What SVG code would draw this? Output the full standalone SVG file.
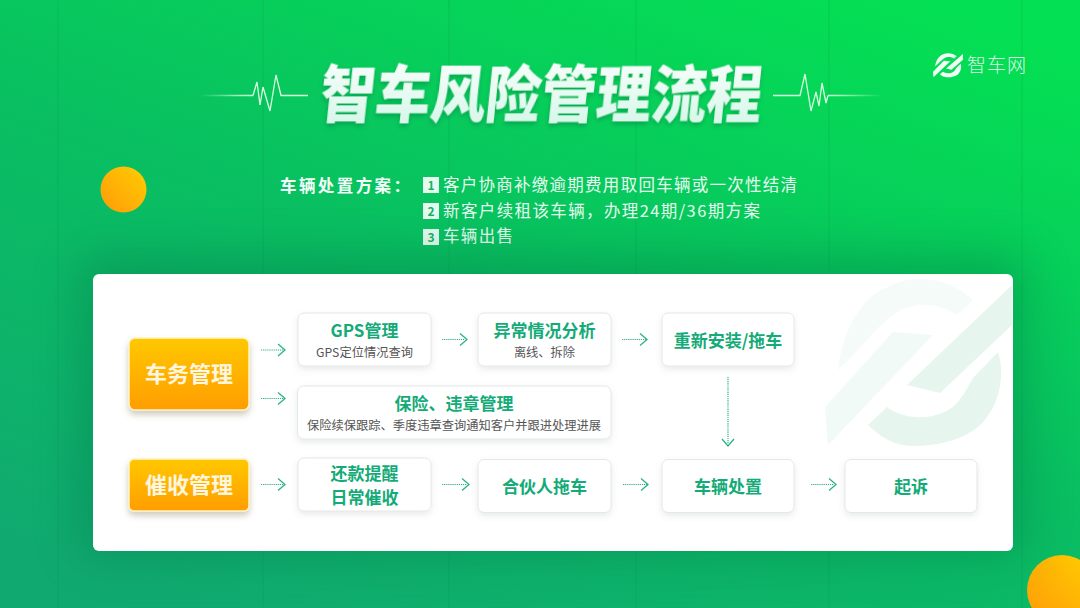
<svg xmlns="http://www.w3.org/2000/svg" width="1080" height="608" viewBox="0 0 1080 608">
<style>
text{font-family:"Noto Sans CJK SC","Noto Sans",sans-serif}
.t{font-size:17px;font-weight:700;fill:#14ab78;text-anchor:middle}
.s{font-size:12.25px;fill:#555;text-anchor:middle}
.o{font-size:22px;font-weight:700;fill:#fff6e0;text-anchor:middle}
.l{font-size:16.5px;fill:#e6fbf0}
.n{font-size:12px;font-weight:700;fill:#12b565;text-anchor:middle}
.box{fill:#fff;stroke:#e4e8e6;stroke-width:1;filter:url(#bs)}
.orange{fill:url(#og);stroke:#fff3c8;stroke-width:1.5;filter:url(#os)}
.ln{fill:none;stroke:#2cb285;stroke-width:1.2;stroke-dasharray:1.2 .9}
.hd{fill:none;stroke:#2cb285;stroke-width:1.3}
.ecg{fill:none;stroke-width:1.3}
.grid{stroke:#07884f;stroke-opacity:.22;stroke-width:1}
</style>
<defs>
<linearGradient id="bg" x1=".85" y1="0" x2=".2" y2="1"><stop offset="0" stop-color="#04e053"/><stop offset=".5" stop-color="#09bf61"/><stop offset="1" stop-color="#10aa70"/></linearGradient>
<linearGradient id="og" x1="0" y1="0" x2="0" y2="1"><stop offset="0" stop-color="#ffc800"/><stop offset="1" stop-color="#ff9d00"/></linearGradient>
<linearGradient id="ball" x1="1" y1="0" x2="0" y2="1"><stop offset="0" stop-color="#ffce00"/><stop offset="1" stop-color="#ff9a0a"/></linearGradient>
<linearGradient id="ttl" x1="0" y1="0" x2="0" y2="1"><stop offset="0" stop-color="#fff"/><stop offset="1" stop-color="#d2f6e6"/></linearGradient>
<linearGradient id="ecgL" gradientUnits="userSpaceOnUse" x1="200" y1="0" x2="253" y2="0"><stop offset="0" stop-color="#d8ffe0" stop-opacity="0"/><stop offset="1" stop-color="#d8ffe0"/></linearGradient>
<linearGradient id="ecgR" gradientUnits="userSpaceOnUse" x1="828" y1="0" x2="882" y2="0"><stop offset="0" stop-color="#d8ffe0"/><stop offset="1" stop-color="#d8ffe0" stop-opacity="0"/></linearGradient>
<filter id="bs" x="-15%" y="-20%" width="130%" height="150%"><feDropShadow dx="0" dy="3" stdDeviation="3" flood-color="#6a8a7a" flood-opacity=".16"/></filter>
<filter id="os" x="-15%" y="-20%" width="130%" height="150%"><feDropShadow dx="0" dy="4" stdDeviation="3" flood-color="#7a6a40" flood-opacity=".35"/></filter>
<filter id="ts" x="-5%" y="-20%" width="110%" height="150%"><feDropShadow dx="0" dy="3" stdDeviation="2.500" flood-color="#05703f" flood-opacity=".4"/></filter>
<filter id="cs" x="-20%" y="-40%" width="140%" height="180%"><feGaussianBlur stdDeviation="24"/></filter>
<clipPath id="cardClip"><rect x="93" y="274" width="920" height="277" rx="6"/></clipPath>
<path id="markA" d="M838 370C842 335 858 300 885 288C915 272 950 278 973 300L957 315C940 303 915 300 893 315C875 328 860 350 838 370Z"/>
<path id="markB" d="M825 407L893 332L933 335L828 445Z"/>
<path id="markC" d="M1012 285L907 385L940 393L1012 325Z"/>
<path id="markD" d="M868 425L887 407C900 418 930 423 953 407C963 398 968 386 973 378L998 352C1005 373 1000 400 987 417C975 435 947 446 913 446C895 446 880 437 868 425Z"/>
</defs>

<rect width="1080" height="608" fill="url(#bg)"/>
<g class="grid"><path d="M58 0V608M263 0V608M449 0V608M636 0V608M829 0V608M1022 0V608"/></g>

<circle cx="123.500" cy="189.500" r="23" fill="url(#ball)"/>
<circle cx="1062" cy="590" r="35" fill="url(#ball)"/>

<g id="title">
<path class="ecg" stroke="url(#ecgL)" d="M200 95.500H253"/>
<path class="ecg" stroke="#d8ffe0" d="M253 95.500L257 82L260 105L263 87L270 111L276 75L281 95.500H308"/>
<text x="320" y="117" transform="skewX(-6) translate(10.500 0)" font-size="62" font-weight="900" fill="url(#ttl)" filter="url(#ts)" textLength="442" lengthAdjust="spacingAndGlyphs">智车风险管理流程</text>
<path class="ecg" stroke="#d8ffe0" d="M773 95.500H800L805 74L811 111L816 92L819 106L822 83L826 103L828 95.500"/>
<path class="ecg" stroke="url(#ecgR)" d="M828 95.500H882"/>
</g>

<g id="logo">
<g transform="translate(801 12.700) scale(.16 .145)" fill="#f0fff5"><use href="#markA"/><use href="#markB"/><use href="#markC"/><use href="#markD"/></g>
<text x="967" y="72" font-size="19" font-weight="300" fill="#d9f7e4" textLength="59">智车网</text>
</g>

<g id="plan">
<text x="280" y="192" font-size="16.5" font-weight="700" fill="#f2fff8" textLength="130">车辆处置方案：</text>
<rect x="423" y="177" width="16" height="16" fill="#e6fbf0"/><text class="n" x="431" y="189.500">1</text>
<text class="l" x="443" y="191" textLength="354">客户协商补缴逾期费用取回车辆或一次性结清</text>
<rect x="423" y="203" width="16" height="16" fill="#e6fbf0"/><text class="n" x="431" y="215.500">2</text>
<text class="l" x="443" y="217" textLength="317">新客户续租该车辆，办理24期/36期方案</text>
<rect x="423" y="229" width="16" height="16" fill="#e6fbf0"/><text class="n" x="431" y="241.500">3</text>
<text class="l" x="443" y="242" textLength="70">车辆出售</text>
</g>

<g id="card">
<rect x="80" y="256" width="946" height="300" rx="6" fill="#055f3c" opacity=".3" filter="url(#cs)"/>
<rect x="93" y="274" width="920" height="277" rx="6" fill="#fff"/>
<g clip-path="url(#cardClip)" fill="#e6f6ef">
<use href="#markA" opacity=".4"/>
<use href="#markB" opacity=".55"/>
<use href="#markC"/>
<use href="#markD"/>
</g>
</g>

<g id="car-mgmt"><rect class="orange" x="129" y="338" width="120" height="72" rx="6"/><text class="o" x="189" y="382">车务管理</text></g>
<g id="collect-mgmt"><rect class="orange" x="129" y="459" width="120" height="52" rx="5"/><text class="o" x="189" y="493">催收管理</text></g>

<g id="gps"><rect class="box" x="298" y="313" width="133" height="53" rx="6"/><text class="t" x="364.500" y="337">GPS管理</text><text class="s" x="364.500" y="357">GPS定位情况查询</text></g>
<g id="abnormal"><rect class="box" x="478" y="313" width="133" height="53" rx="6"/><text class="t" x="544.500" y="337">异常情况分析</text><text class="s" x="544.500" y="357">离线、拆除</text></g>
<g id="reinstall"><rect class="box" x="662" y="313" width="132" height="53" rx="6"/><text class="t" x="728" y="347">重新安装/拖车</text></g>
<g id="insurance"><rect class="box" x="297.500" y="386" width="313.500" height="53" rx="6"/><text class="t" x="454" y="410">保险、违章管理</text><text class="s" x="454" y="430">保险续保跟踪、季度违章查询通知客户并跟进处理进展</text></g>
<g id="remind"><rect class="box" x="298" y="458" width="133" height="53" rx="6"/><text class="t" x="364.500" y="480">还款提醒</text><text class="t" x="364.500" y="504">日常催收</text></g>
<g id="partner"><rect class="box" x="478" y="459.500" width="133" height="53" rx="6"/><text class="t" x="544.500" y="493">合伙人拖车</text></g>
<g id="dispose"><rect class="box" x="662" y="459.500" width="132" height="53" rx="6"/><text class="t" x="728" y="493">车辆处置</text></g>
<g id="sue"><rect class="box" x="845" y="459.500" width="132" height="53" rx="6"/><text class="t" x="911" y="493">起诉</text></g>

<g id="connectors">
<path class="ln" d="M261 350H284M261 398.500H284M261 484.500H284M442 339.500H465M442 484.500H467M622 339.500H646M623 484.500H647M811 484.500H834M728 377V444"/>
<path class="hd" d="M278 344L285 350L278 356M278 392.500L285 398.500L278 404.500M278 478.500L285 484.500L278 490.500M460 333.500L467 339.500L460 345.500M462 478.500L469 484.500L462 490.500M640 333.500L647 339.500L640 345.500M641 478.500L648 484.500L641 490.500M829 478.500L836 484.500L829 490.500M722 439L728 446L734 439"/>
</g>
</svg>
